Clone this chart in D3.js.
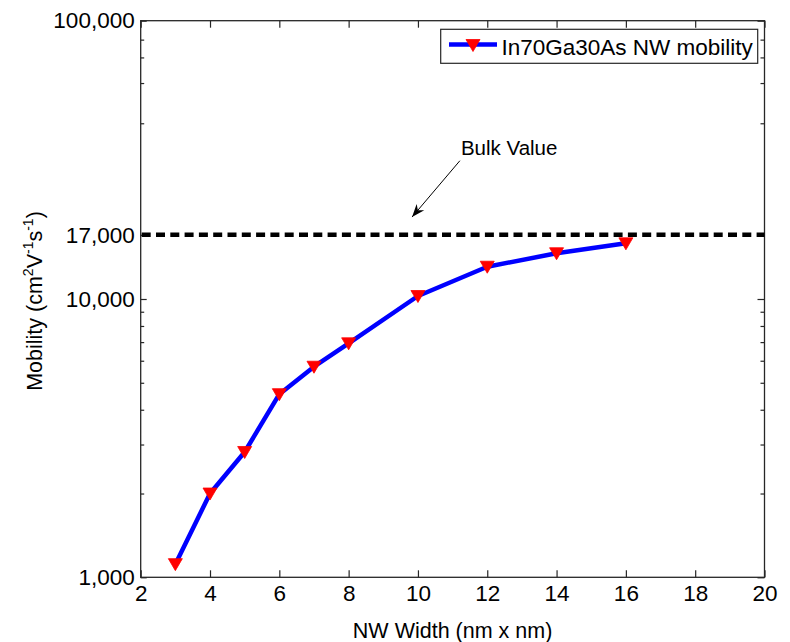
<!DOCTYPE html>
<html>
<head>
<meta charset="utf-8">
<script src="https://cdn.jsdelivr.net/npm/d3@7"></script>
<style>
  html, body { margin: 0; padding: 0; background: #fff; }
  svg { display: block; font-family: "Liberation Sans", Arial, Helvetica, sans-serif; }
</style>
</head>
<body>
<svg id="chart" width="790" height="642"></svg>
<script>
// ---- Data ----
const widths = [3, 4, 5, 6, 7, 8, 10, 12, 14, 16];
const mobility = [1115, 2000, 2820, 4550, 5710, 6930, 10250, 13060, 14600, 15850];
const seriesName = "In70Ga30As NW mobility";
const bulkValue = 17000;
const bulkLabel = "Bulk Value";
const arrowFrom = [11.21, 31400];
const arrowTo = [9.83, 19700];
const labelPos = [11.24, 32900];
const xTicks = [2, 4, 6, 8, 10, 12, 14, 16, 18, 20];
const yMajorTicks = [1000, 10000, 17000, 100000];
const yMinorTicks = [2000, 3000, 4000, 5000, 6000, 7000, 8000, 9000, 42800, 59700, 73800, 85500];
const xTitle = "NW Width (nm x nm)";

// ---- Layout ----
const L = 140.7, R = 764.5, T = 20.7, B = 577.3;
const axisColor = "#262626";
const svg = d3.select("#chart");

const x = d3.scaleLinear().domain([2, 20]).range([L, R]);
const y = d3.scaleLog().domain([1000, 100000]).range([B, T]);

function styleAxis(g) {
  g.select(".domain").remove();
  g.selectAll("line").attr("stroke", axisColor).attr("stroke-width", 1.2);
  g.selectAll("text").attr("fill", "#000").attr("font-size", 22.5)
    .attr("font-family", "Liberation Sans, Arial, sans-serif");
}

// frame
svg.append("rect").attr("x", L).attr("y", T).attr("width", R - L).attr("height", B - T)
  .attr("fill", "#fff").attr("stroke", axisColor).attr("stroke-width", 1.3);

// bottom axis
svg.append("g").attr("transform", `translate(0,${B})`)
  .call(d3.axisBottom(x).tickValues(xTicks).tickFormat(d3.format("d")).tickSize(-7).tickSizeOuter(0).tickPadding(8))
  .call(styleAxis);
// top axis
svg.append("g").attr("transform", `translate(0,${T})`)
  .call(d3.axisTop(x).tickValues(xTicks).tickFormat("").tickSize(-7).tickSizeOuter(0))
  .call(styleAxis);
// left axis
svg.append("g").attr("transform", `translate(${L},0)`)
  .call(d3.axisLeft(y).tickValues(yMajorTicks).tickFormat(d3.format(",")).tickSize(-6).tickSizeOuter(0).tickPadding(6))
  .call(styleAxis);
svg.append("g").attr("transform", `translate(${L},0)`)
  .call(d3.axisLeft(y).tickValues(yMinorTicks).tickFormat("").tickSize(-3.5).tickSizeOuter(0))
  .call(styleAxis);
// right axis
svg.append("g").attr("transform", `translate(${R},0)`)
  .call(d3.axisRight(y).tickValues(yMajorTicks).tickFormat("").tickSize(-7).tickSizeOuter(0))
  .call(styleAxis);
svg.append("g").attr("transform", `translate(${R},0)`)
  .call(d3.axisRight(y).tickValues(yMinorTicks).tickFormat("").tickSize(-4).tickSizeOuter(0))
  .call(styleAxis);

// bulk dashed line
svg.append("line")
  .attr("x1", x(2) + 1).attr("x2", x(20))
  .attr("y1", y(bulkValue)).attr("y2", y(bulkValue))
  .attr("stroke", "#000").attr("stroke-width", 4.5).attr("stroke-dasharray", "9,5.3");

// data line
const data = widths.map((w, i) => ({ w, m: mobility[i] }));
svg.append("path").datum(data)
  .attr("fill", "none").attr("stroke", "#0000ff").attr("stroke-width", 4.5)
  .attr("stroke-linejoin", "round")
  .attr("d", d3.line().x(d => x(d.w)).y(d => y(d.m)));

const tri = "M-7,-5.5L7,-5.5L0,6.5Z";
svg.append("g").selectAll("path").data(data).join("path")
  .attr("d", tri)
  .attr("transform", d => `translate(${x(d.w)},${y(d.m)})`)
  .attr("fill", "#ff0000").attr("stroke", "#ff0000").attr("stroke-width", 0.8);

// annotation
const ax1 = x(arrowFrom[0]), ay1 = y(arrowFrom[1]);
const ax2 = x(arrowTo[0]), ay2 = y(arrowTo[1]);
const ang = Math.atan2(ay2 - ay1, ax2 - ax1) * 180 / Math.PI;
svg.append("line").attr("x1", ax1).attr("y1", ay1).attr("x2", ax2).attr("y2", ay2)
  .attr("stroke", "#000").attr("stroke-width", 1);
svg.append("path")
  .attr("d", "M0,0L-13,-5L-9,0L-13,5Z")
  .attr("transform", `translate(${ax2},${ay2}) rotate(${ang})`)
  .attr("fill", "#000");
svg.append("text").attr("x", x(labelPos[0])).attr("y", y(labelPos[1]))
  .attr("font-size", 20.5).attr("fill", "#000").text(bulkLabel);

// axis titles
svg.append("text").attr("x", (L + R) / 2).attr("y", 637.5)
  .attr("text-anchor", "middle").attr("font-size", 21.5).attr("fill", "#000").text(xTitle);

const yt = svg.append("text")
  .attr("transform", `translate(42,${(T + B) / 2 + 2}) rotate(-90)`)
  .attr("text-anchor", "middle").attr("font-size", 21.5).attr("fill", "#000");
yt.append("tspan").text("Mobility (cm");
yt.append("tspan").attr("font-size", 14).attr("dy", -9).text("2");
yt.append("tspan").attr("dy", 9).text("V");
yt.append("tspan").attr("font-size", 14).attr("dy", -9).text("-1");
yt.append("tspan").attr("dy", 9).text("s");
yt.append("tspan").attr("font-size", 14).attr("dy", -9).text("-1");
yt.append("tspan").attr("dy", 9).text(")");

// legend
const lg = svg.append("g");
lg.append("rect").attr("x", 440.7).attr("y", 29.3).attr("width", 317).attr("height", 34)
  .attr("fill", "#fff").attr("stroke", axisColor).attr("stroke-width", 1.2);
lg.append("line").attr("x1", 449).attr("x2", 497).attr("y1", 44.5).attr("y2", 44.5)
  .attr("stroke", "#0000ff").attr("stroke-width", 4.5);
lg.append("path").attr("d", tri).attr("transform", "translate(473,45)")
  .attr("fill", "#ff0000").attr("stroke", "#ff0000").attr("stroke-width", 0.8);
lg.append("text").attr("x", 501.5).attr("y", 55).attr("font-size", 22.5).attr("fill", "#000").text(seriesName);
</script>
</body>
</html>
